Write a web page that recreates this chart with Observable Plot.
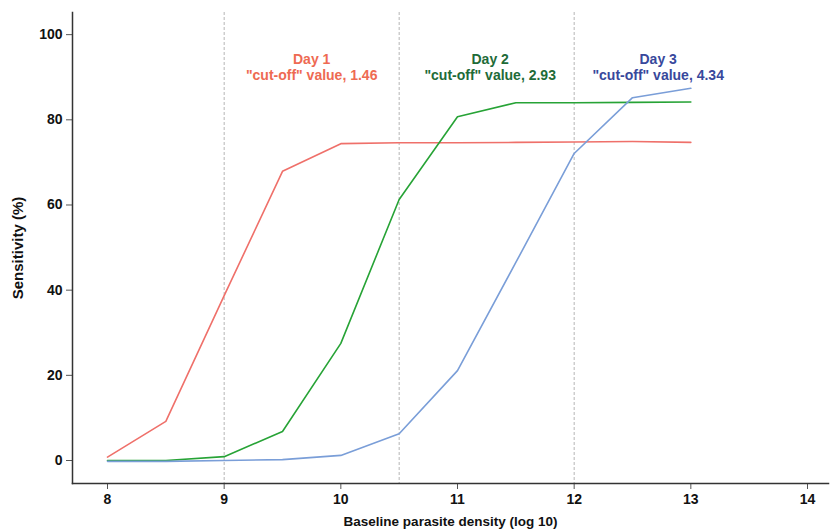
<!DOCTYPE html>
<html>
<head>
<meta charset="utf-8">
<script src="https://cdn.jsdelivr.net/npm/d3@7"></script>
<script src="https://cdn.jsdelivr.net/npm/@observablehq/plot@0.6"></script>
<style>
  html, body { margin: 0; padding: 0; background: #fff; }
  #chart svg { display: block; }
</style>
</head>
<body>
<div id="chart"></div>
<script>
const density = [8, 8.5, 9, 9.5, 10, 10.5, 11, 11.5, 12, 12.5, 13];
const day1 = [0.8, 9.2, 38.7, 67.9, 74.4, 74.6, 74.6, 74.7, 74.8, 74.9, 74.7];
const day2 = [0.0, 0.0, 0.9, 6.8, 27.5, 61.3, 80.7, 84.0, 84.0, 84.1, 84.2];
const day3 = [-0.2, -0.2, 0.0, 0.2, 1.2, 6.3, 21.1, 46.5, 72.1, 85.2, 87.4];
const seriesNames = ["Day 1", "Day 2", "Day 3"];
const lineColors = ["#EF706A", "#27A336", "#7A9ED8"];
const textColors = ["#EE6A52", "#1E6B38", "#38489C"];
const cutoffLines = [9, 10.5, 12];
const cutoffValues = ["1.46", "2.93", "4.34"];
const labelX = [9.75, 11.28, 12.72];
const labelY = 92.5;
const xTicks = [8, 9, 10, 11, 12, 13, 14];
const yTicks = [0, 20, 40, 60, 80, 100];
const xTitle = "Baseline parasite density (log 10)";
const yTitle = "Sensitivity (%)";

const series = [day1, day2, day3];
const rows = [];
series.forEach((vals, i) => vals.forEach((v, j) => rows.push({x: density[j], y: v, s: seriesNames[i]})));
const labels = seriesNames.map((n, i) => ({x: labelX[i], y: labelY, text: `${n}\n"cut-off" value, ${cutoffValues[i]}`, color: textColors[i]}));

const font = "'Liberation Sans', Arial, Helvetica, sans-serif";

const chart = Plot.plot({
  width: 830,
  height: 530,
  marginLeft: 72,
  marginRight: 2,
  marginTop: 12,
  marginBottom: 47,
  style: {fontFamily: font, fontSize: "14px", fontWeight: "bold", color: "#111", background: "#fff"},
  x: {domain: [7.7, 14.18]},
  y: {domain: [-5.4, 105.2]},
  color: {domain: seriesNames, range: lineColors},
  marks: [
    Plot.ruleX(cutoffLines, {stroke: "#b5b5b5", strokeWidth: 1, strokeDasharray: "3,2"}),
    Plot.line(rows, {x: "x", y: "y", z: "s", stroke: "s", strokeWidth: 1.6}),
    Plot.text(labels, {x: "x", y: "y", text: "text", fill: "color", fontSize: 14, fontWeight: "bold", lineHeight: 1.15}),
    Plot.axisX(xTicks, {tickSize: 6, tickPadding: 5, stroke: "#555", fontSize: 14, fontWeight: "bold", fill: "#111",
      tickFormat: "d", label: null}),
    Plot.axisY(yTicks, {tickSize: 6, tickPadding: 4, stroke: "#555", fontSize: 14, fontWeight: "bold", fill: "#111",
      tickFormat: "d", label: null}),
    Plot.text([xTitle], {frameAnchor: "bottom", dy: 42, fontSize: 13.5, fontWeight: "bold", fill: "#111"}),
    Plot.text([yTitle], {frameAnchor: "left", textAnchor: "middle", rotate: -90, dx: -54, fontSize: 15, fontWeight: "bold", fill: "#111"}),
    Plot.frame({anchor: "left", stroke: "#333", strokeWidth: 1.5}),
    Plot.frame({anchor: "bottom", stroke: "#333", strokeWidth: 1.5})
  ]
});
document.getElementById("chart").appendChild(chart);
</script>
</body>
</html>
